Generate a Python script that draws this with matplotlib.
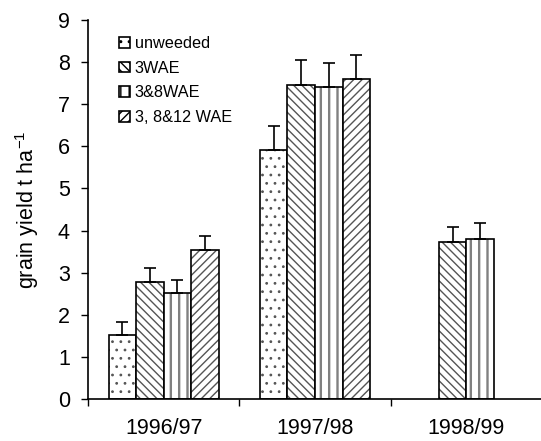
import numpy as np
import matplotlib.pyplot as plt
from matplotlib.patches import Patch

plt.rcParams['font.family'] = ['Liberation Sans', 'DejaVu Sans']
plt.rcParams['mathtext.fontset'] = 'custom'
plt.rcParams['mathtext.rm'] = 'Liberation Sans'
plt.rcParams['mathtext.it'] = 'Liberation Sans'

# Datos
years = ['1996/97', '1997/98', '1998/99']
labels = ['unweeded', '3WAE', '3&8WAE', '3, 8&12 WAE']
unweeded = [1.52, 5.91, np.nan]
wae3 = [2.78, 7.46, 3.73]
wae38 = [2.52, 7.42, 3.80]
wae3812 = [3.55, 7.59, np.nan]
err_unweeded = [0.32, 0.57, np.nan]
err_wae3 = [0.32, 0.58, 0.36]
err_wae38 = [0.31, 0.57, 0.37]
err_wae3812 = [0.31, 0.59, np.nan]

series = [unweeded, wae3, wae38, wae3812]
errors = [err_unweeded, err_wae3, err_wae38, err_wae3812]
hatches = ['..', '\\\\\\\\', '||', '////']
hatch_cols = ['#555555', '#555555', '#808080', '#555555']
hatch_lw = [0.8, 1.0, 1.7, 1.0]

fig = plt.figure(figsize=(5.41, 4.41), dpi=100)
ax = fig.add_axes([88/541, 42/441, 454/541, 379/441])

x = np.arange(len(years)) + 0.5
w = 0.182
for i, (vals, err) in enumerate(zip(series, errors)):
    pos = x + (i - 1.5) * w
    vals = np.array(vals)
    err = np.array(err)
    plt.rcParams['hatch.linewidth'] = hatch_lw[i]
    ax.bar(pos, vals, w, color='white', edgecolor=hatch_cols[i], hatch=hatches[i], linewidth=0)
    ax.bar(pos, vals, w, color='none', edgecolor='black', linewidth=1.2)
    ax.errorbar(pos, vals, yerr=[np.zeros_like(err), err], fmt='none', ecolor='black',
                elinewidth=1.2, capsize=4, capthick=1.2)

ax.set_xlim(0, 3)
ax.set_ylim(0, 9)
ax.set_yticks(np.arange(0, 10, 1))
ax.set_xticks([0, 1, 2, 3])
ax.set_xticklabels([])
ax.set_xticks(x, minor=True)
ax.set_xticklabels(years, minor=True)
ax.tick_params(axis='x', which='minor', length=0, pad=14, labelsize=15.5)
ax.tick_params(axis='x', which='major', direction='out', length=5, width=1)
ax.tick_params(axis='y', direction='out', length=5, width=1, labelsize=15.5, pad=8)
for s in ['top', 'right']:
    ax.spines[s].set_visible(False)
for s in ['left', 'bottom']:
    ax.spines[s].set_linewidth(1.2)
ax.set_ylabel('grain yield t ha$^{-1}$', fontsize=15.5, labelpad=12)

plt.rcParams['hatch.linewidth'] = 1.0
handles = [Patch(facecolor='white', edgecolor='black', hatch=h, linewidth=1.2) for h in hatches]
ax.legend(handles, labels, loc='upper left', bbox_to_anchor=(0.055, 0.975), frameon=False,
          fontsize=11.7, handlelength=0.65, handleheight=0.65, handletextpad=0.3,
          labelspacing=0.6, borderaxespad=0)

fig.savefig('out.png', dpi=100)
